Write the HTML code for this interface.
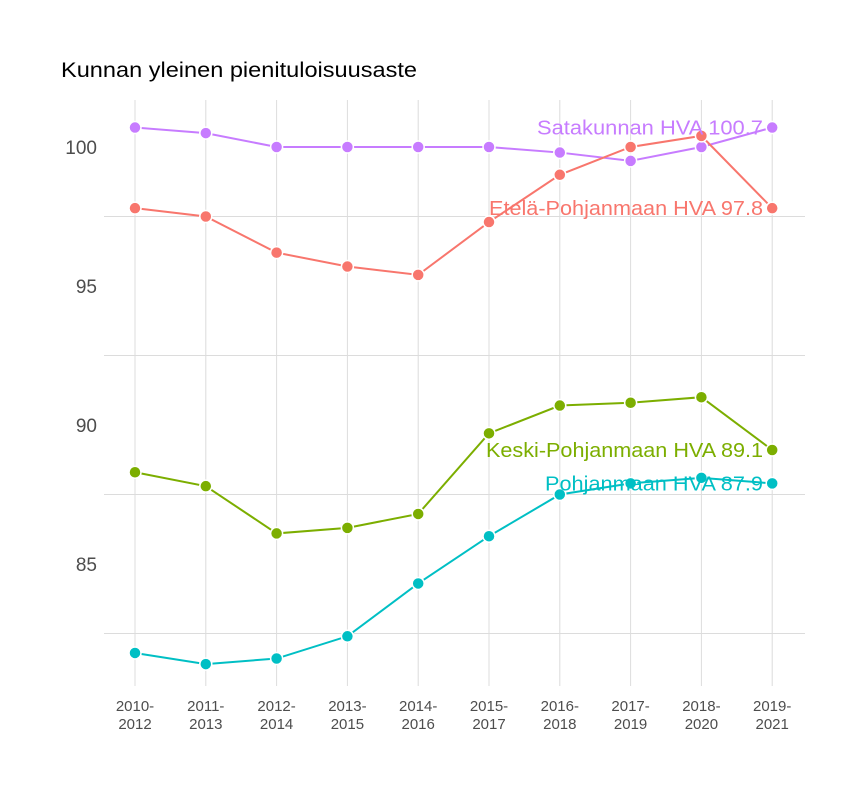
<!DOCTYPE html>
<html><head><meta charset="utf-8"><style>
body{margin:0;background:#fff;font-family:"Liberation Sans",sans-serif}
</style></head><body>
<svg id="c" width="864" height="792" xmlns="http://www.w3.org/2000/svg">
<text x="61" y="77" font-size="21" textLength="356" lengthAdjust="spacingAndGlyphs" fill="#000">Kunnan yleinen pienituloisuusaste</text>
<g id="grid"></g><g id="axes"></g><g id="series"></g><g id="labels"></g>
</svg>
<script>
const categories=["2010-2012","2011-2013","2012-2014","2013-2015","2014-2016","2015-2017","2016-2018","2017-2019","2018-2020","2019-2021"];
const seriesNames=["Satakunnan HVA","Etelä-Pohjanmaan HVA","Keski-Pohjanmaan HVA","Pohjanmaan HVA"];
const satakunta=[100.7,100.5,100,100,100,100,99.8,99.5,100,100.7];
const etelaPohjanmaa=[97.8,97.5,96.2,95.7,95.4,97.3,99.0,100.0,100.4,97.8];
const keskiPohjanmaa=[88.3,87.8,86.1,86.3,86.8,89.7,90.7,90.8,91.0,89.1];
const pohjanmaa=[81.8,81.4,81.6,82.4,84.3,86.0,87.5,87.9,88.1,87.9];
const yTicks=[85,90,95,100];
const yMinor=[82.5,87.5,92.5,97.5];
const labelWidths=[226,274,277,218];
const colors=["#C77CFF","#F8766D","#7CAE00","#00BFC4"];
const NS="http://www.w3.org/2000/svg";
const x=i=>135+i*70.8;
const y=v=>147+(100-v)*27.8;
function mk(t,a,p){const e=document.createElementNS(NS,t);for(const k in a)e.setAttribute(k,a[k]);document.getElementById(p).appendChild(e);return e;}
categories.forEach((c,i)=>{
  const l=mk("line",{x1:x(i),x2:x(i),y1:100,y2:686,stroke:"#dcdcdc","stroke-width":1},"grid");
  
  
  const p=c.split("-");
  const t=mk("text",{x:x(i),y:711,"font-size":15,fill:"#4d4d4d","text-anchor":"middle"},"axes");
  
  
  t.innerHTML=`<tspan x="${x(i)}">${p[0]}-</tspan><tspan x="${x(i)}" dy="18">${p[1]}</tspan>`;
});
yMinor.forEach(v=>{
  const l=mk("line",{x1:104,x2:805,y1:y(v),y2:y(v),stroke:"#dcdcdc","stroke-width":1},"grid");
  
  
});
yTicks.forEach(v=>{
  const t=mk("text",{x:97,y:y(v)+7,"font-size":19,fill:"#4d4d4d","text-anchor":"end"},"axes");
  
  
  t.textContent=v;
});
[satakunta,etelaPohjanmaa,keskiPohjanmaa,pohjanmaa].forEach((s,k)=>{
  const pl=mk("polyline",{points:s.map((v,i)=>x(i)+","+y(v)).join(" "),fill:"none",stroke:colors[k],"stroke-width":2},"series");
  
  
  s.forEach((v,i)=>{
    const c=mk("circle",{cx:x(i),cy:y(v),r:6,fill:colors[k],stroke:"#fff","stroke-width":1.5},"series");
    
    
  });
  const last=s[s.length-1];
  const t=mk("text",{x:763-labelWidths[k],y:y(last)+7,"font-size":20,fill:colors[k],textLength:labelWidths[k],lengthAdjust:"spacingAndGlyphs"},"labels");
  
  
  t.textContent=seriesNames[k]+" "+last.toFixed(1);
});
</script>
</body></html>
